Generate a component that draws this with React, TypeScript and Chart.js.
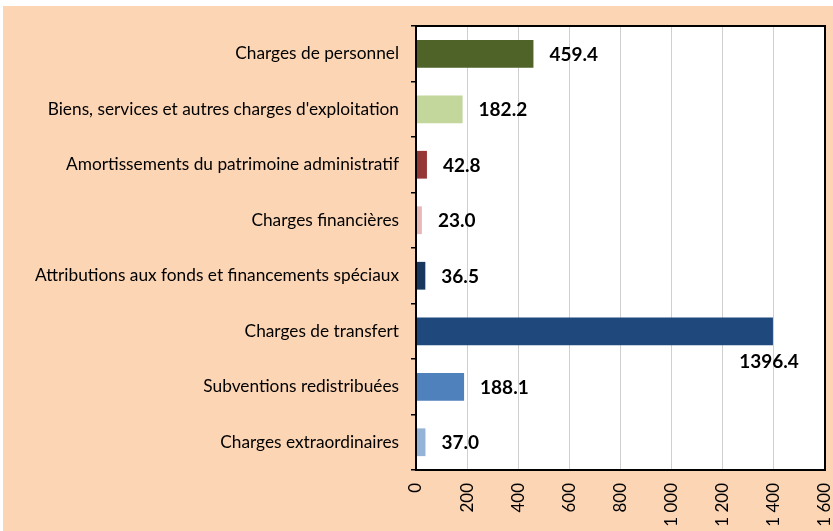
import React, { useEffect, useRef } from "react";
import { Chart, registerables } from "chart.js";

Chart.register(...registerables);

const categories: string[] = [
  "Charges de personnel",
  "Biens, services et autres charges d'exploitation",
  "Amortissements du patrimoine administratif",
  "Charges financières",
  "Attributions aux fonds et financements spéciaux",
  "Charges de transfert",
  "Subventions redistribuées",
  "Charges extraordinaires",
];

const values: number[] = [459.4, 182.2, 42.8, 23.0, 36.5, 1396.4, 188.1, 37.0];

const barColors: string[] = [
  "#4F6228",
  "#C3D69B",
  "#953735",
  "#E6B9B8",
  "#17375E",
  "#1F497D",
  "#4F81BD",
  "#95B3D7",
];

const xMin = 0;
const xMax = 1600;
const xStep = 200;

const FONT = "Lato, 'DejaVu Sans', sans-serif";

function fmtTick(v: number): string {
  const s = Math.round(v).toString();
  return s.replace(/\B(?=(\d{3})+(?!\d))/g, " ");
}

const plotBgPlugin = {
  id: "plotBg",
  beforeDraw(chart: any) {
    const { ctx, chartArea } = chart;
    ctx.save();
    ctx.fillStyle = "#FFFFFF";
    ctx.fillRect(chartArea.left, chartArea.top, chartArea.right - chartArea.left, chartArea.bottom - chartArea.top);
    ctx.restore();
  },
  afterDraw(chart: any) {
    const { ctx, chartArea } = chart;
    ctx.save();
    ctx.strokeStyle = "#000000";
    ctx.lineWidth = 2;
    ctx.strokeRect(chartArea.left, chartArea.top, chartArea.right - chartArea.left, chartArea.bottom - chartArea.top);
    ctx.restore();
  },
};

const valueLabelPlugin = {
  id: "valueLabels",
  afterDatasetsDraw(chart: any) {
    const { ctx, chartArea } = chart;
    const meta = chart.getDatasetMeta(0);
    ctx.save();
    ctx.font = `bold 19px ${FONT}`;
    ctx.fillStyle = "#000000";
    ctx.textBaseline = "middle";
    meta.data.forEach((el: any, i: number) => {
      const text = values[i].toFixed(1);
      const w = ctx.measureText(text).width;
      let x = el.x + 16;
      let y = el.y + 1;
      if (x + w > chartArea.right - 4) {
        ctx.textAlign = "center";
        x = el.x - 4;
        y = el.y + 31;
      } else {
        ctx.textAlign = "left";
      }
      ctx.fillText(text, x, y);
    });
    ctx.restore();
  },
};

export default function App() {
  const canvasRef = useRef<HTMLCanvasElement | null>(null);

  useEffect(() => {
    if (!canvasRef.current) return;
    const chart = new Chart(canvasRef.current, {
      type: "bar",
      data: {
        labels: categories,
        datasets: [
          {
            data: values,
            backgroundColor: barColors,
            borderWidth: 0,
            barPercentage: 0.5,
            categoryPercentage: 1,
          },
        ],
      },
      options: {
        indexAxis: "y",
        responsive: false,
        animation: false,
        devicePixelRatio: 1,
        layout: { padding: { top: 20, right: 8, left: 0, bottom: 0 } },
        plugins: {
          legend: { display: false },
          tooltip: { enabled: false },
        },
        scales: {
          x: {
            type: "linear",
            min: xMin,
            max: xMax,
            afterFit: (scale: any) => {
              scale.height = 61;
              scale.paddingLeft = 0;
              scale.paddingRight = 0;
            },
            ticks: {
              stepSize: xStep,
              minRotation: 90,
              maxRotation: 90,
              autoSkip: false,
              padding: 13,
              color: "#000000",
              font: { family: FONT, size: 17 },
              callback: (v: any) => fmtTick(Number(v)),
            },
            grid: {
              color: "#CFCFCF",
              lineWidth: 1,
              drawTicks: false,
              tickLength: 0,
            },
            border: { display: true, color: "#000000", width: 2 },
          },
          y: {
            type: "category",
            afterFit: (scale: any) => {
              scale.width = 413;
              scale.paddingTop = 0;
              scale.paddingBottom = 0;
            },
            ticks: {
              padding: 12,
              color: "#000000",
              font: { family: FONT, size: 17.3 },
              autoSkip: false,
            },
            grid: {
              offset: true,
              drawOnChartArea: false,
              drawTicks: true,
              tickLength: 5,
              color: "#000000",
              lineWidth: 1.5,
            },
            border: { display: true, color: "#000000", width: 2 },
          },
        },
      } as any,
      plugins: [plotBgPlugin, valueLabelPlugin],
    });
    return () => chart.destroy();
  }, []);

  return (
    <div
      style={{
        position: "absolute",
        left: 3,
        top: 6,
        width: 830,
        height: 525,
        background: "#FCD5B5",
      }}
    >
      <canvas ref={canvasRef} width={830} height={525} style={{ display: "block" }} />
    </div>
  );
}
